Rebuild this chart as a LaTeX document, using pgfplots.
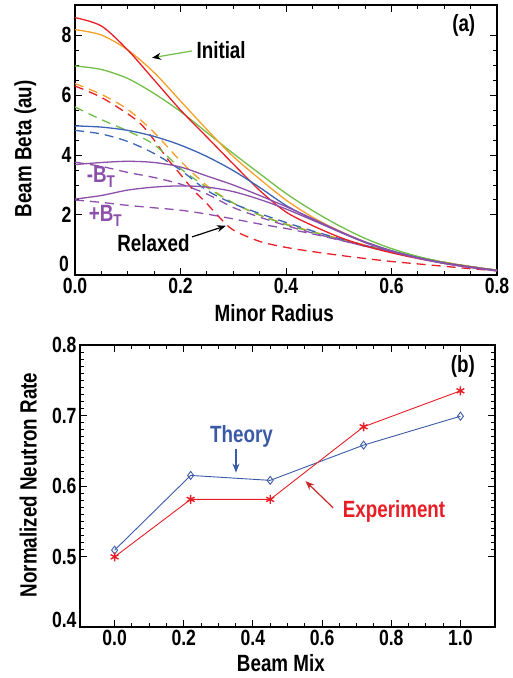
\documentclass[border=0pt]{standalone}
\usepackage{pgfplots}
\pgfplotsset{compat=1.18}
\usepackage{pgfplotstable}
\usepackage{fontspec}
\setmainfont{Liberation Sans}[FakeStretch=0.8]
\usetikzlibrary{arrows.meta}

\definecolor{cred}{RGB}{232,30,38}
\definecolor{corange}{RGB}{247,160,40}
\definecolor{cgreen}{RGB}{112,190,70}
\definecolor{cblue}{RGB}{60,100,180}
\definecolor{cpurple}{RGB}{140,80,170}
\definecolor{theoryblue}{RGB}{58,90,168}
\definecolor{exparrow}{RGB}{200,40,40}

\newcommand{\ticksize}{\bfseries\fontsize{22}{24}\selectfont}
\newcommand{\labsize}{\bfseries\fontsize{23.5}{25}\selectfont}
\newcommand{\annsize}{\bfseries\fontsize{23.5}{25}\selectfont}

% initial beam beta profiles
\pgfplotstableread{
r     red   orange green blue  minus plus
0.00  8.58  8.18   6.97  4.97  3.68  2.53
0.05  8.30  8.00   6.85  4.93  3.75  2.65
0.10  7.50  7.50   6.55  4.82  3.79  2.83
0.15  6.50  6.75   6.05  4.62  3.75  2.93
0.20  5.50  5.80   5.45  4.33  3.60  2.97
0.25  4.60  4.85   4.75  3.95  3.30  2.93
0.30  3.70  3.95   4.05  3.48  3.00  2.78
0.35  2.82  3.20   3.38  2.92  2.65  2.52
0.40  2.10  2.50   2.72  2.32  2.28  2.20
0.45  1.65  1.93   2.15  1.86  1.88  1.83
0.50  1.27  1.48   1.65  1.45  1.47  1.45
0.55  0.97  1.10   1.22  1.10  1.10  1.08
0.60  0.74  0.80   0.88  0.81  0.80  0.79
0.65  0.55  0.57   0.62  0.58  0.57  0.56
0.70  0.40  0.40   0.42  0.40  0.39  0.38
0.75  0.27  0.27   0.28  0.26  0.25  0.25
0.80  0.15  0.15   0.16  0.15  0.14  0.14
}\initial

% relaxed profiles
\pgfplotstableread{
r     orange green blue  minus plus
0.00  6.38   5.60  4.82  3.76  2.50
0.05  6.02   5.18  4.70  3.62  2.42
0.10  5.52   4.80  4.45  3.42  2.32
0.15  4.75   4.35  4.05  3.25  2.24
0.20  3.80   3.55  3.50  3.03  2.16
0.25  2.98   2.92  2.82  2.70  2.03
0.30  2.40   2.40  2.38  2.25  1.87
0.35  2.00   2.00  2.05  1.93  1.70
0.40  1.70   1.68  1.75  1.65  1.55
0.45  1.45   1.43  1.47  1.40  1.37
0.50  1.22   1.20  1.22  1.18  1.17
0.55  1.00   0.98  0.99  0.96  0.96
0.60  0.80   0.78  0.78  0.77  0.77
0.65  0.60   0.59  0.59  0.58  0.58
0.70  0.43   0.42  0.42  0.41  0.41
0.75  0.28   0.28  0.28  0.27  0.27
0.80  0.16   0.16  0.16  0.15  0.15
}\relaxed

\pgfplotstableread{
r      red
0.000  6.30
0.050  5.92
0.100  5.37
0.125  5.03
0.150  4.50
0.175  3.88
0.200  3.35
0.225  2.82
0.250  2.38
0.275  1.90
0.300  1.50
0.350  1.12
0.400  0.92
0.450  0.78
0.500  0.66
0.550  0.55
0.600  0.45
0.650  0.37
0.700  0.29
0.750  0.21
0.800  0.14
}\relaxedred

% neutron rate versus beam mix
\pgfplotstableread{
mix   theory  expt
0.00  0.509   0.4995
0.22  0.615   0.581
0.45  0.608   0.581
0.72  0.658   0.684
1.00  0.699   0.735
}\neutron

\pgfplotsset{
  panel/.style={
    scale only axis,
    anchor=south west,
    axis line style={line width=1.3pt},
    tick style={line width=1pt, black},
    major tick length=7pt,
    minor tick length=4pt,
    tick align=inside,
    xtick pos=both, ytick pos=both,
    ticklabel style={font=\ticksize},
    /pgf/number format/assume math mode=true,
    label style={font=\labsize},
  },
  onedec/.style={
    /pgf/number format/fixed,
    /pgf/number format/fixed zerofill,
    /pgf/number format/precision=1,
  },
  ini/.style={smooth, line width=1.3pt},
  rel/.style={smooth, line width=1.3pt, dash pattern=on 9pt off 6pt},
}

\begin{document}
\begin{tikzpicture}
\useasboundingbox (0pt,0pt) rectangle (512pt,678pt);

% (a) beam beta profiles
\begin{axis}[panel,
  at={(75pt,403pt)}, width=422pt, height=270pt,
  xmin=0, xmax=0.8, ymin=0, ymax=9,
  xtick={0,0.2,0.4,0.6,0.8}, ytick={2,4,6,8},
  extra y ticks={0},
  extra y tick style={yticklabel style={yshift=11pt, inner sep=2pt, xshift=-4pt}},
  minor x tick num=3, minor y tick num=3,
  xticklabel style={onedec},
  xlabel={Minor Radius}, ylabel={Beam Beta (au)},
  xlabel style={at={(axis description cs:0.472,-0.141)}, anchor=center},
  ylabel style={at={(axis description cs:-0.118,0.467)}, anchor=center},
]
\addplot[rel, corange] table[x=r, y=orange] {\relaxed};
\addplot[rel, cred] table[x=r, y=red] {\relaxedred};
\addplot[rel, cgreen] table[x=r, y=green] {\relaxed};
\addplot[rel, cblue] table[x=r, y=blue] {\relaxed};
\addplot[rel, cpurple] table[x=r, y=minus] {\relaxed};
\addplot[rel, cpurple] table[x=r, y=plus] {\relaxed};

\addplot[ini, cgreen] table[x=r, y=green] {\initial};
\addplot[ini, corange] table[x=r, y=orange] {\initial};
\addplot[ini, cred] table[x=r, y=red] {\initial};
\addplot[ini, cblue] table[x=r, y=blue] {\initial};
\addplot[ini, cpurple] table[x=r, y=minus] {\initial};
\addplot[ini, cpurple] table[x=r, y=plus] {\initial};

\node[font=\annsize] at (axis cs:0.277,7.5) {Initial};
\draw[cgreen, line width=1.2pt, -{Stealth[black,length=9pt,width=7pt]}]
  (axis cs:0.222,7.47) -- (axis cs:0.146,7.24);
\node[font=\annsize, text=cpurple, anchor=base west, inner sep=0pt]
  at (axis cs:0.022,3.07) {-B\raisebox{-0.4ex}{\fontsize{17}{17}\selectfont T}};
\node[font=\annsize, text=cpurple, anchor=base west, inner sep=0pt]
  at (axis cs:0.026,1.77) {+B\raisebox{-0.4ex}{\fontsize{17}{17}\selectfont T}};
\node[font=\annsize, anchor=base west, inner sep=0pt] at (axis cs:0.080,0.77) {Relaxed};
\draw[black, line width=1.2pt, -{Stealth[length=9pt,width=7pt]}]
  (axis cs:0.222,1.27) -- (axis cs:0.286,1.64);
\node[font=\annsize] at (axis cs:0.737,8.33) {(a)};
\end{axis}

% (b) neutron rate
\begin{axis}[panel,
  at={(80pt,51pt)}, width=415pt, height=282pt,
  xmin=-0.1, xmax=1.1, ymin=0.4, ymax=0.8,
  xtick={0,0.2,0.4,0.6,0.8,1.0}, ytick={0.5,0.6,0.7,0.8},
  extra y ticks={0.4},
  extra y tick style={yticklabel style={yshift=7pt}},
  minor x tick num=3, minor y tick num=9,
  ticklabel style={onedec},
  xlabel={Beam Mix}, ylabel={Normalized Neutron Rate},
  xlabel style={at={(axis description cs:0.484,-0.128)}, anchor=center},
  ylabel style={at={(axis description cs:-0.125,0.504)}, anchor=center},
]
\addplot[theoryblue, line width=0.9pt, mark=diamond, mark size=4pt,
  mark options={line width=0.9pt}] table[x=mix, y=theory] {\neutron};
\addplot[cred, line width=0.9pt, mark=asterisk, mark size=4.5pt,
  mark options={line width=1.4pt}] table[x=mix, y=expt] {\neutron};

\node[font=\annsize, text=theoryblue] at (axis cs:0.367,0.671) {Theory};
\draw[theoryblue, line width=1.2pt, -{Stealth[length=9pt,width=7pt]}]
  (axis cs:0.351,0.652) -- (axis cs:0.351,0.619);
\node[font=\annsize, text=cred] at (axis cs:0.808,0.5645) {Experiment};
\draw[exparrow, line width=1.2pt, -{Stealth[length=9pt,width=7pt]}]
  (axis cs:0.632,0.569) -- (axis cs:0.552,0.607);
\node[font=\annsize] at (axis cs:1.007,0.770) {(b)};
\end{axis}
\end{tikzpicture}
\end{document}
